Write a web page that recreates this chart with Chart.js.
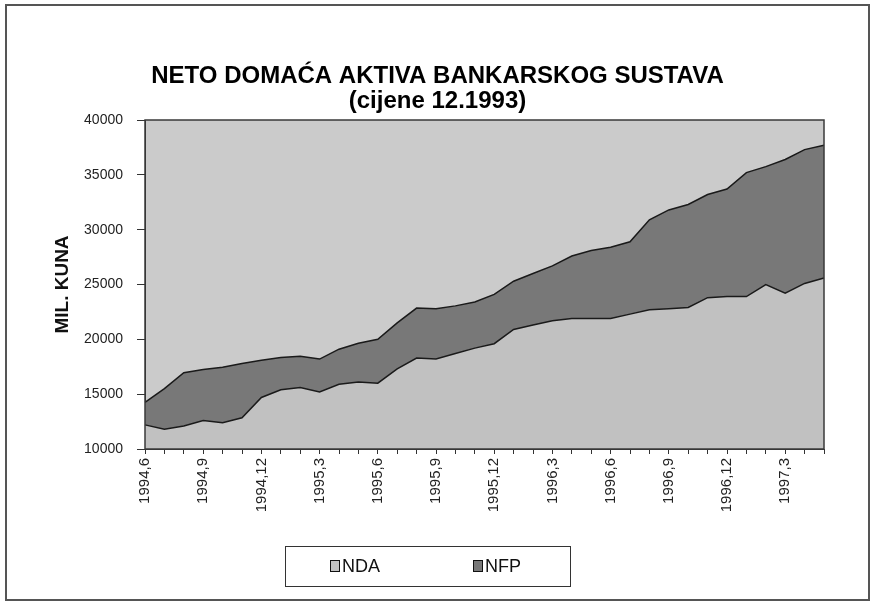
<!DOCTYPE html>
<html>
<head>
<meta charset="utf-8">
<title>Neto domaća aktiva bankarskog sustava</title>
<script src="https://cdn.jsdelivr.net/npm/chart.js@4.4.1/dist/chart.umd.min.js"></script>
<style>
    html, body { margin: 0; padding: 0; background: #fff; }
    #wrap { width: 875px; height: 605px; }
</style>
</head>
<body>
<div id="wrap"><canvas id="nda-chart" width="875" height="605"></canvas></div>
<script>
var months = [
    '1994,6', '1994,7', '1994,8', '1994,9', '1994,10', '1994,11', '1994,12',
    '1995,1', '1995,2', '1995,3', '1995,4', '1995,5', '1995,6', '1995,7', '1995,8', '1995,9', '1995,10', '1995,11', '1995,12',
    '1996,1', '1996,2', '1996,3', '1996,4', '1996,5', '1996,6', '1996,7', '1996,8', '1996,9', '1996,10', '1996,11', '1996,12',
    '1997,1', '1997,2', '1997,3', '1997,4', '1997,5'
];

// mil. kuna, bottom band
var nda = [
    12200, 11800, 12100, 12600, 12400, 12850, 14700,
    15400, 15600, 15200, 15900, 16100, 16000, 17300, 18300, 18200, 18700, 19200, 19600,
    20900, 21300, 21700, 21900, 21900, 21900, 22300, 22700, 22800, 22900, 23800, 23900,
    23900, 25000, 24200, 25100, 25600
];

// stacked on top of NDA
var nfp = [
    2050, 3700, 4850, 4650, 5050, 4950, 3400,
    2950, 2850, 3000, 3200, 3550, 4000, 4200, 4550, 4600, 4350, 4200, 4500,
    4400, 4700, 5000, 5700, 6200, 6500, 6600, 8200, 9000, 9400, 9400, 9800,
    11300, 10750, 12200, 12200, 12100
];

var seriesNames = ['NDA', 'NFP'];
var seriesColors = ['#c1c1c1', '#787878'];
var yRange = [10000, 40000];
var yStep = 5000;
var titleLines = ['NETO DOMAĆA AKTIVA BANKARSKOG SUSTAVA', '(cijene 12.1993)'];
var yTitle = 'MIL. KUNA';

var NdaChart = {

    font: "'Liberation Sans', Arial, sans-serif",

    setup: function () {
        Chart.defaults.font.family = this.font;
        Chart.defaults.color = '#1a1a1a';
        this.drawChart();
    },

    framePlugin: function () {
        var font = this.font;

        return {
            id: 'frame',
            beforeDraw: function (chart) {
                var ctx = chart.ctx, a = chart.chartArea;
                ctx.save();
                ctx.fillStyle = '#ffffff';
                ctx.fillRect(0, 0, chart.width, chart.height);
                ctx.fillStyle = '#cbcbcb';
                ctx.fillRect(a.left, a.top, a.right - a.left, a.bottom - a.top);
                ctx.restore();
            },
            afterDatasetsDraw: function (chart) {
                var ctx = chart.ctx, a = chart.chartArea;
                ctx.save();
                ctx.strokeStyle = '#3a3a3a';
                ctx.lineWidth = 1.5;
                ctx.strokeRect(a.left, a.top, a.right - a.left, a.bottom - a.top);
                ctx.restore();
            },
            afterDraw: function (chart) {
                var ctx = chart.ctx;
                ctx.save();

                // outer border of the whole chart
                ctx.strokeStyle = '#555';
                ctx.lineWidth = 2;
                ctx.strokeRect(6, 5, 863, 595);

                // legend box
                ctx.strokeStyle = '#333';
                ctx.lineWidth = 1;
                ctx.strokeRect(285.5, 546.5, 285, 40);

                var itemX = [330, 473];
                ctx.font = '18px ' + font;
                ctx.textBaseline = 'middle';
                chart.data.datasets.forEach(function (ds, i) {
                    ctx.fillStyle = ds.backgroundColor;
                    ctx.fillRect(itemX[i], 560, 10, 12);
                    ctx.strokeStyle = '#111';
                    ctx.strokeRect(itemX[i] + 0.5, 560.5, 9, 11);
                    ctx.fillStyle = '#111';
                    ctx.fillText(ds.label, itemX[i] + 12, 567);
                });
                ctx.restore();
            }
        };
    },

    drawChart: function () {
        var ctx = document.getElementById('nda-chart');

        new Chart(ctx, {
            type: 'line',
            data: {
                labels: months,
                datasets: [
                    {
                        label: seriesNames[0],
                        data: nda,
                        fill: 'start',
                        backgroundColor: seriesColors[0],
                        borderColor: '#1a1a1a',
                        borderWidth: 1.5,
                        pointRadius: 0,
                        tension: 0
                    },
                    {
                        label: seriesNames[1],
                        data: nfp,
                        fill: '-1',
                        backgroundColor: seriesColors[1],
                        borderColor: '#1a1a1a',
                        borderWidth: 1.5,
                        pointRadius: 0,
                        tension: 0
                    }
                ]
            },
            options: {
                responsive: false,
                animation: false,
                layout: {
                    padding: {top: 0, left: 51, right: 51, bottom: 56}
                },
                plugins: {
                    legend: {display: false},
                    tooltip: {enabled: false},
                    title: {
                        display: true,
                        text: titleLines,
                        color: '#000',
                        font: {size: 24, weight: 'bold', lineHeight: 25 / 24},
                        padding: {top: 64, bottom: 6}
                    }
                },
                scales: {
                    x: {
                        grid: {
                            drawOnChartArea: false,
                            tickLength: 5,
                            color: '#333'
                        },
                        border: {color: '#333'},
                        ticks: {
                            autoSkip: false,
                            minRotation: 90,
                            maxRotation: 90,
                            padding: 4,
                            font: {size: 15},
                            color: '#222',
                            callback: function (value, index) {
                                return index % 3 === 0 ? this.getLabelForValue(value) : '';
                            }
                        },
                        afterFit: function (scale) {
                            scale.height = 100;
                        }
                    },
                    y: {
                        stacked: true,
                        min: yRange[0],
                        max: yRange[1],
                        grid: {
                            drawOnChartArea: false,
                            tickLength: 8,
                            color: '#333'
                        },
                        border: {color: '#333'},
                        ticks: {
                            stepSize: yStep,
                            padding: 14,
                            font: {size: 14},
                            color: '#222',
                            callback: function (value) {
                                return String(value);
                            }
                        },
                        title: {
                            display: true,
                            text: yTitle,
                            color: '#111',
                            font: {size: 19, weight: 'bold'},
                            padding: {top: 0, bottom: 0}
                        },
                        afterFit: function (scale) {
                            scale.width = 94;
                        }
                    }
                }
            },
            plugins: [this.framePlugin()]
        });
    }
};

NdaChart.setup();
</script>
</body>
</html>
